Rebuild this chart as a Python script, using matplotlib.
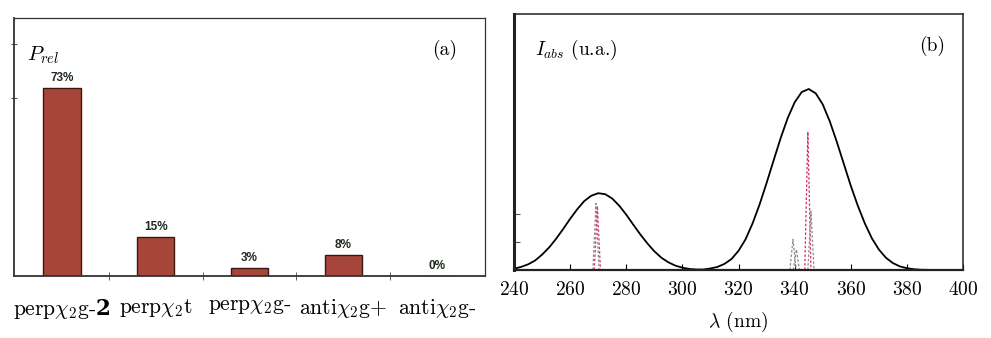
import matplotlib.pyplot as plt
import matplotlib.ticker as mticker

plt.rcParams['font.family'] = 'cmr10'
plt.rcParams['mathtext.fontset'] = 'cm'
plt.rcParams['axes.formatter.use_mathtext'] = True
# jeu "custom" pour le chiffre gras du premier conformere
plt.rcParams['mathtext.rm'] = 'cmr10'
plt.rcParams['mathtext.it'] = 'cmmi10'
plt.rcParams['mathtext.bf'] = 'DejaVu Serif:bold'

# (a) populations relatives des conformeres
conformeres = [r'perp$\chi_2$g-$\mathbf{2}$', r'perp$\chi_2$t', r'perp$\chi_2$g-',
               r'anti$\chi_2$g+', r'anti$\chi_2$g-']
p_rel = [73, 15, 3, 8, 0]

# (b) spectre d'absorption simule
lam = [240, 242.5, 245, 247.5, 250, 252.5, 255, 257.5, 260, 262.5, 265, 267.5,
       270, 272.5, 275, 277.5, 280, 282.5, 285, 287.5, 290, 292.5, 295, 297.5,
       300, 302.5, 305, 307.5, 310, 312.5, 315, 317.5, 320, 322.5, 325, 327.5,
       330, 332.5, 335, 337.5, 340, 342.5, 345, 347.5, 350, 352.5, 355, 357.5,
       360, 362.5, 365, 367.5, 370, 372.5, 375, 377.5, 380, 382.5, 385, 390,
       395, 400]
i_abs = [0.005, 0.012, 0.022, 0.037, 0.060, 0.088, 0.122, 0.160, 0.200, 0.237,
         0.269, 0.290, 0.300, 0.296, 0.279, 0.251, 0.216, 0.177, 0.139, 0.104,
         0.073, 0.048, 0.030, 0.017, 0.009, 0.004, 0.002, 0.002, 0.006, 0.012,
         0.024, 0.043, 0.075, 0.120, 0.182, 0.256, 0.340, 0.428, 0.515, 0.593,
         0.655, 0.695, 0.707, 0.690, 0.647, 0.581, 0.501, 0.415, 0.329, 0.251,
         0.182, 0.124, 0.080, 0.048, 0.027, 0.014, 0.007, 0.003, 0.001, 0.0,
         0.0, 0.0]

# transitions des conformeres (position, intensite, couleur)
trans_lam = [269.2, 269.7, 339.4, 340.6, 344.7, 345.8]
trans_int = [0.26, 0.25, 0.12, 0.08, 0.54, 0.23]
trans_col = ['#8a8a8a', '#d0406a', '#8a8a8a', '#8a8a8a', '#d0305a', '#8a8a8a']

fig = plt.figure(figsize=(9.91, 3.38), dpi=100)

# ---- panneau (a)
ax1 = fig.add_axes([0.0141, 0.1834, 0.4753, 0.7633])
x = list(range(len(conformeres)))
bars = ax1.bar(x, p_rel, width=0.4, color='#a8453a', edgecolor='#3a1812', linewidth=1)
for b, v in zip(bars, p_rel):
    ax1.annotate(f'{v}%', (b.get_x() + b.get_width() / 2, v), xytext=(0, 3),
                 textcoords='offset points', ha='center', va='bottom',
                 fontsize=8.5, fontweight='bold', family='Liberation Sans', color='#1e2a1e')
ax1.set_xlim(-0.51, 4.51)
ax1.set_ylim(0, 100)
ax1.set_xticks(x)
labels = ax1.set_xticklabels(conformeres, fontsize=15.5)
labels[0].set_math_fontfamily('custom')
ax1.tick_params(axis='x', length=0, pad=15)
ax1.xaxis.set_minor_locator(mticker.FixedLocator([0.5, 1.5, 2.5, 3.5]))
ax1.tick_params(axis='x', which='minor', direction='inout', length=6, color='#444444')
ax1.set_yticks([69, 90])
ax1.set_yticklabels([])
ax1.tick_params(axis='y', direction='inout', length=5, color='#555555')
for s in ax1.spines.values():
    s.set_color('#333333')
    s.set_linewidth(0.9)
ax1.spines['left'].set_linewidth(1.3)
ax1.spines['bottom'].set_linewidth(1.3)
ax1.text(0.028, 0.857, r'$P_{rel}$', transform=ax1.transAxes, fontsize=15,
         ha='left', va='center')
ax1.text(0.915, 0.876, '(a)', transform=ax1.transAxes, fontsize=14,
         ha='center', va='center')

# ---- panneau (b)
ax2 = fig.add_axes([0.5187, 0.2012, 0.4531, 0.7574])
ax2.plot(lam, i_abs, color='black', linewidth=1.3)
for l0, h, c in zip(trans_lam, trans_int, trans_col):
    ax2.plot([l0 - 1.1, l0, l0 + 1.1], [0, h, 0], color=c, linewidth=0.9,
             linestyle=(0, (2, 1.5)))
ax2.set_xlim(240, 400)
ax2.set_ylim(0, 1)
ax2.set_xticks(range(240, 401, 20))
ax2.tick_params(axis='x', labelsize=14, direction='in', length=4, pad=8)
ax2.set_yticks([0.11, 0.22])
ax2.set_yticklabels([])
ax2.tick_params(axis='y', direction='in', length=4, color='#555555')
ax2.set_xlabel(r'$\lambda$ (nm)', fontsize=14, labelpad=8)
for s in ax2.spines.values():
    s.set_color('#222222')
    s.set_linewidth(1.1)
ax2.spines['left'].set_linewidth(2.2)
ax2.spines['bottom'].set_linewidth(1.6)
ax2.text(0.047, 0.859, r'$I_{abs}$ (u.a.)', transform=ax2.transAxes, fontsize=14,
         ha='left', va='center')
ax2.text(0.931, 0.875, '(b)', transform=ax2.transAxes, fontsize=14,
         ha='center', va='center')

fig.savefig('out.png', dpi=100)
